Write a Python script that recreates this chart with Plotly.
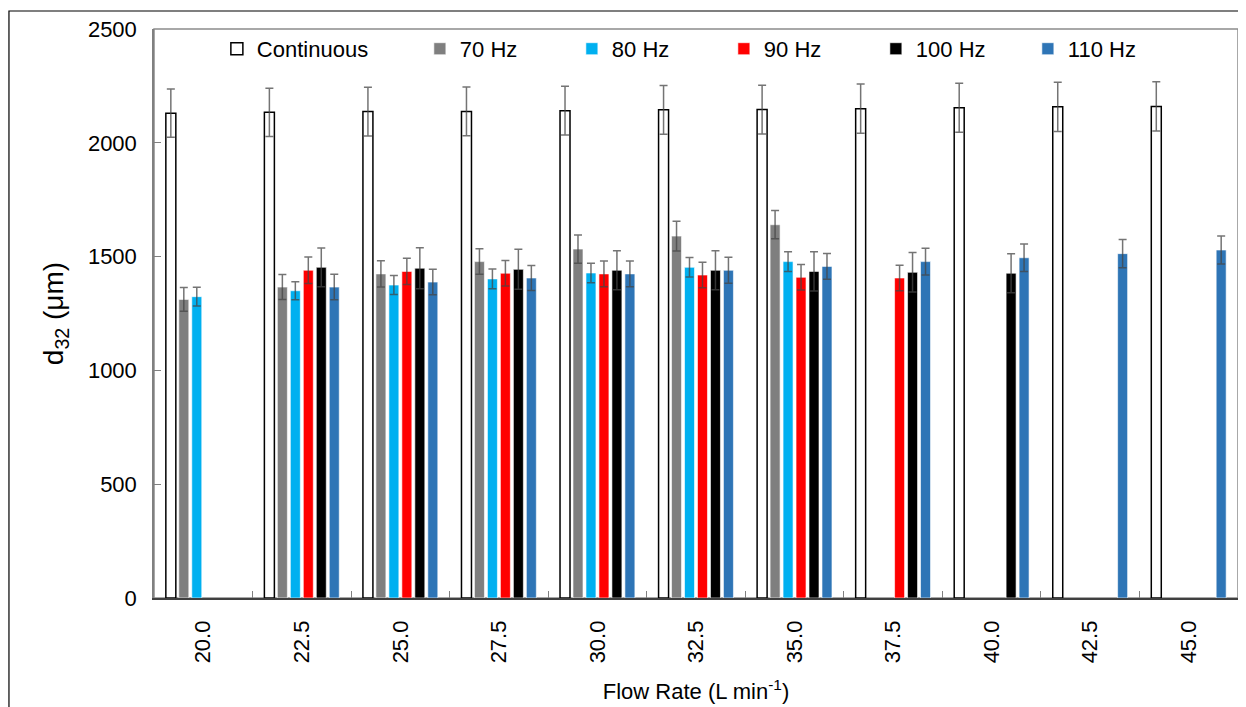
import plotly.graph_objects as go

categories = ["20.0", "22.5", "25.0", "27.5", "30.0", "32.5", "35.0", "37.5", "40.0", "42.5", "45.0"]

continuous = [2130, 2134, 2137, 2138, 2141, 2145, 2146, 2150, 2154, 2158, 2160]
continuous_err = [106, 106, 107, 107, 107, 107, 107, 108, 108, 108, 108]

hz70 = [1312, 1366, 1424, 1478, 1533, 1590, 1640, None, None, None, None]
hz70_err = [52, 55, 58, 56, 62, 65, 62, None, None, None, None]

hz80 = [1324, 1350, 1375, 1402, 1428, 1453, 1478, None, None, None, None]
hz80_err = [41, 40, 42, 43, 43, 43, 43, None, None, None, None]

hz90 = [None, 1440, 1435, 1427, 1424, 1419, 1409, 1406, None, None, None]
hz90_err = [None, 58, 58, 56, 57, 56, 56, 56, None, None, None]

hz100 = [None, 1453, 1449, 1444, 1440, 1440, 1435, 1431, 1427, None, None]
hz100_err = [None, 85, 90, 88, 86, 86, 86, 87, 86, None, None]

hz110 = [None, 1366, 1388, 1406, 1424, 1440, 1457, 1478, 1495, 1513, 1529]
hz110_err = [None, 56, 56, 55, 57, 57, 57, 59, 60, 62, 62]

series = [
    ("Continuous", continuous, continuous_err, "#FFFFFF", "#000000", 1.5, 158),
    ("70 Hz", hz70, hz70_err, "#7F7F7F", "rgba(255,255,255,0.6)", 1, 107),
    ("80 Hz", hz80, hz80_err, "#00B0F0", "rgba(255,255,255,0.6)", 1, 107),
    ("90 Hz", hz90, hz90_err, "#FF0000", "rgba(255,255,255,0.6)", 1, 107),
    ("100 Hz", hz100, hz100_err, "#000000", "rgba(255,255,255,0.6)", 1, 107),
    ("110 Hz", hz110, hz110_err, "#2E75B6", "rgba(255,255,255,0.6)", 1, 107),
]

FONT = "Liberation Sans, Arial, sans-serif"

fig = go.Figure()
for name, vals, errs, fill, line, lw, lwid in series:
    fig.add_trace(go.Bar(
        name=name,
        x=categories,
        y=vals,
        marker=dict(color=fill, line=dict(color=line, width=lw)),
        error_y=dict(type="data", array=errs, visible=True,
                     color="rgba(70,70,70,0.75)", thickness=1.5, width=4),
        legendwidth=lwid,
    ))

fig.update_layout(
    width=1238, height=699,
    margin=dict(l=146, r=8, t=21, b=109),
    paper_bgcolor="white", plot_bgcolor="white",
    barmode="group", bargap=0.21, bargroupgap=0.23,
    font=dict(family=FONT, size=22, color="#000000"),
    showlegend=True,
    legend=dict(orientation="h", x=0.058, xanchor="left", y=0.965, yanchor="middle",
                font=dict(family=FONT, size=22, color="#000000"),
                bgcolor="rgba(0,0,0,0)", borderwidth=0, itemwidth=30,
                traceorder="normal"),
    shapes=[
        dict(type="rect", xref="paper", yref="paper", x0=0, y0=0, x1=1, y1=1,
             line=dict(color="#8C8C8C", width=1.5), layer="below"),
        dict(type="rect", xref="paper", yref="paper",
             x0=-0.1338, y0=-0.2, x1=1.0065, y1=1.0316,
             line=dict(color="#000000", width=1.2), layer="above"),
    ],
)

fig.update_xaxes(
    type="category",
    tickangle=-90,
    tickson="boundaries",
    ticks="inside", ticklen=7, tickcolor="#808080", tickwidth=1,
    showline=True, linecolor="#404040", linewidth=1.5,
    showgrid=False, zeroline=False,
    ticklabelstandoff=12,
    tickfont=dict(family=FONT, size=22, color="#000000"),
    title=dict(text="Flow Rate (L min<sup>-1</sup>)", standoff=21,
               font=dict(family=FONT, size=22, color="#000000")),
)

fig.update_yaxes(
    range=[0, 2500], dtick=500, tick0=0,
    ticks="inside", ticklen=7, tickcolor="#808080", tickwidth=1,
    showline=True, linecolor="#808080", linewidth=1.5,
    showgrid=False, zeroline=False,
    ticklabelstandoff=11,
    tickfont=dict(family=FONT, size=22, color="#000000"),
    title=dict(text="d<sub>32</sub> (μm)", standoff=16,
               font=dict(family=FONT, size=28, color="#000000")),
)

fig.write_html("out.html")
